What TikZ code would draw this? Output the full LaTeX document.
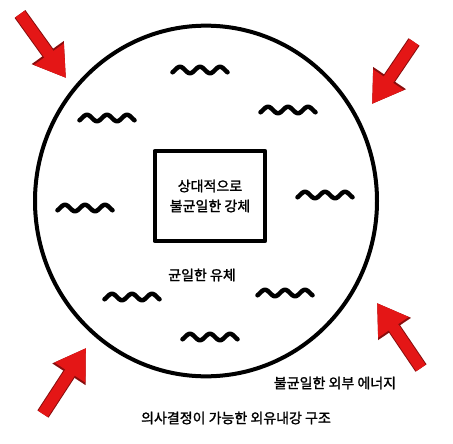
\documentclass[tikz,border=0pt]{standalone}
\usepackage{fontspec}
\setmainfont{Noto Sans CJK KR}[BoldFont={Noto Sans CJK KR}, BoldFeatures={FakeBold=1.6}]
\usetikzlibrary{arrows.meta}
\definecolor{arrowred}{RGB}{228,22,22}
\begin{document}
\begin{tikzpicture}[x={(0.75pt,0)}, y={(0,-0.75pt)}, line join=round,
  wall/.style={line width=3pt},
  txt/.style={font=\fontsize{10.5}{15}\selectfont\bfseries, inner sep=0pt},
  push/.style={line width=8.5pt, arrowred, -{Triangle[length=22pt, width=26pt]},
    preaction={draw, line width=10pt, arrowred!60!black, -{Triangle[length=23.5pt, width=28pt]}}},
  squiggle/.pic={\draw[line width=3.4pt, line cap=round]
    plot[domain=-45:945, samples=60, smooth] ({(\x-450)/18}, {-3.2*sin(\x)});}]
\useasboundingbox (0,0) rectangle (453,443);
% outer soft body
\draw[wall] (206,201) ellipse [x radius=128.25pt, y radius=131.5pt];
% rigid core
\node[draw, wall, txt, align=center, minimum width=83pt, minimum height=67.5pt] (core) at (210,196) {상대적으로\\불균일한 강체};
% fluid waves
\foreach \p in {(200,70), (288,110), (107,118), (325,195), (85,208), (132,297), (285,293), (210,337)}
  \pic at \p {squiggle};
\node[txt] (fluid) at (202,275) {균일한 유체};
% outside pushes
\coordinate (tl tail) at (20,14);   \coordinate (tl tip) at (66,78);
\coordinate (tr tail) at (414,42);  \coordinate (tr tip) at (372,104);
\coordinate (bl tail) at (43,414);  \coordinate (bl tip) at (86,348);
\coordinate (br tail) at (421,368); \coordinate (br tip) at (377,303);
\foreach \c in {tl, tr, bl, br}
  \draw[push] (\c\space tail) -- (\c\space tip);
\node[txt] (energy) at (335,383) {불균일한 외부 에너지};
\node[txt] (title) at (236,418) {의사결정이 가능한 외유내강 구조};
\end{tikzpicture}
\end{document}
